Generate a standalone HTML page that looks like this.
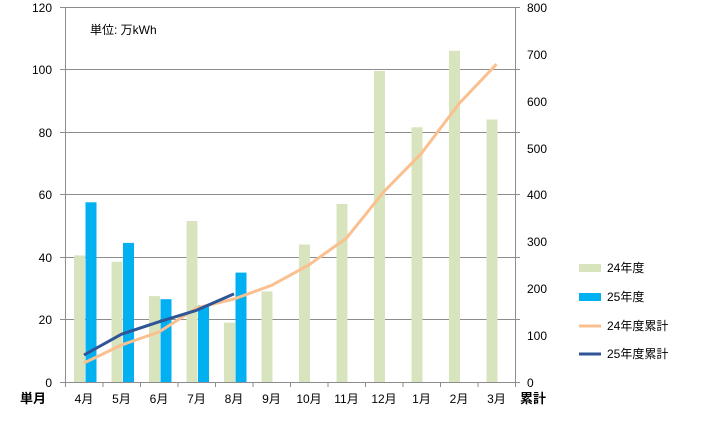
<!DOCTYPE html>
<html><head><meta charset="utf-8"><style>
body{margin:0;background:#fff}
text{font-family:"Liberation Sans","Noto Sans CJK JP",sans-serif;fill:#000}
</style></head><body>
<svg width="714" height="423" xmlns="http://www.w3.org/2000/svg">
<g stroke="#8c8c8c" stroke-width="1">
<line x1="60" x2="520" y1="7.5" y2="7.5"/>
<line x1="60" x2="520" y1="69.5" y2="69.5"/>
<line x1="60" x2="520" y1="132.5" y2="132.5"/>
<line x1="60" x2="520" y1="194.5" y2="194.5"/>
<line x1="60" x2="520" y1="257.5" y2="257.5"/>
<line x1="60" x2="520" y1="319.5" y2="319.5"/>
</g>
<g fill="#d7e4bd">
<rect x="74" y="255.4" width="11" height="126.6"/>
<rect x="111.5" y="261.7" width="11" height="120.3"/>
<rect x="149" y="296.1" width="11" height="85.9"/>
<rect x="186.5" y="221" width="11" height="161"/>
<rect x="224" y="322.6" width="11" height="59.4"/>
<rect x="261.5" y="291.4" width="11" height="90.6"/>
<rect x="299" y="244.5" width="11" height="137.5"/>
<rect x="336.5" y="203.9" width="11" height="178.1"/>
<rect x="374" y="71" width="11" height="311"/>
<rect x="411.5" y="127.3" width="11" height="254.7"/>
<rect x="449" y="50.8" width="11" height="331.2"/>
<rect x="486.5" y="119.5" width="11" height="262.5"/>
</g>
<g fill="#00b0f0">
<rect x="85.5" y="202.3" width="11" height="179.7"/>
<rect x="123" y="242.9" width="11" height="139.1"/>
<rect x="160.5" y="299.2" width="11" height="82.8"/>
<rect x="198" y="305.4" width="11" height="76.6"/>
<rect x="235.5" y="272.6" width="11" height="109.4"/>
</g>
<g stroke="#8c8c8c" stroke-width="1">
<line x1="65.5" x2="65.5" y1="7" y2="382"/>
<line x1="515.5" x2="515.5" y1="7" y2="382"/>
<line x1="60" x2="520" y1="382.5" y2="382.5"/>
<path d="M65.5 382v5M103 382v5M140.5 382v5M178 382v5M215.5 382v5M253 382v5M290.5 382v5M328 382v5M365.5 382v5M403 382v5M440.5 382v5M478 382v5M515.5 382v5"/>
</g>
<polyline fill="none" stroke="#fac090" stroke-width="3" stroke-linejoin="round" points="84,363 121.5,345 159,332 196.5,308 234,299 271.5,285.4 309,264.8 346.5,238.1 384,191.5 421.5,153.3 459,103.6 496.5,64.2"/>
<polyline fill="none" stroke="#2f5597" stroke-width="3" stroke-linejoin="round" points="84,355 121.5,334.2 159,321.8 196.5,310.3 234,293.9"/>
<g font-size="12" text-anchor="end">
<text x="52" y="12">120</text><text x="52" y="74">100</text><text x="52" y="137">80</text><text x="52" y="199">60</text><text x="52" y="262">40</text><text x="52" y="324">20</text><text x="52" y="387">0</text>
</g>
<g font-size="12">
<text x="527" y="12">800</text><text x="527" y="59">700</text><text x="527" y="106">600</text><text x="527" y="153">500</text><text x="527" y="199">400</text><text x="527" y="246">300</text><text x="527" y="293">200</text><text x="527" y="340">100</text><text x="527" y="387">0</text>
</g>
<g font-size="12" text-anchor="middle">
<text x="84" y="403">4月</text><text x="121.5" y="403">5月</text><text x="159" y="403">6月</text><text x="196.5" y="403">7月</text><text x="234" y="403">8月</text><text x="271.5" y="403">9月</text><text x="309" y="403">10月</text><text x="346.5" y="403">11月</text><text x="384" y="403">12月</text><text x="421.5" y="403">1月</text><text x="459" y="403">2月</text><text x="496.5" y="403">3月</text>
</g>
<text x="20" y="403" font-size="13" font-weight="bold">単月</text>
<text x="520" y="403" font-size="13" font-weight="bold">累計</text>
<text x="90" y="34" font-size="12">単位: 万kWh</text>
<rect x="579" y="264" width="22" height="8" fill="#d7e4bd"/>
<text x="607" y="272" font-size="12">24年度</text>
<rect x="579" y="293" width="22" height="8" fill="#00b0f0"/>
<text x="607" y="301" font-size="12">25年度</text>
<line x1="579" x2="601" y1="326" y2="326" stroke="#fac090" stroke-width="3"/>
<text x="607" y="330" font-size="12">24年度累計</text>
<line x1="579" x2="601" y1="354" y2="354" stroke="#2f5597" stroke-width="3"/>
<text x="607" y="358" font-size="12">25年度累計</text>
</svg>
</body></html>
